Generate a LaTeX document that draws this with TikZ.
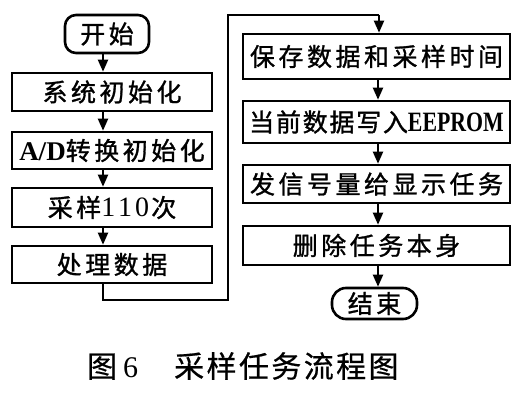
\documentclass[tikz,border=0pt]{standalone}
\usepackage{fontspec}
\newfontfamily\cjk[LetterSpace=14, FakeBold=1.2]{Noto Sans CJK SC}
\newfontfamily\cjkn[LetterSpace=7, FakeBold=1.2]{Noto Sans CJK SC}
\newfontfamily\capf[LetterSpace=8, FakeBold=0.6]{Noto Sans CJK SC}
\newfontfamily\latn{Liberation Serif}
\newfontfamily\latc[FakeStretch=0.78]{Liberation Serif}
\usetikzlibrary{arrows.meta}
\begin{document}
\begin{tikzpicture}[x=1pt,y=-1pt,
  box/.style={draw, line width=2.6pt, inner sep=0pt, font=\fontsize{25}{25}\selectfont\cjk},
  term/.style={box, rounded corners=11pt},
  arr/.style={line width=2pt, -{Triangle[length=12pt,width=10pt]}},
  conn/.style={line width=2pt}]
\useasboundingbox (0,0) rectangle (524,393);
% left column
\node[term, minimum width=84pt, minimum height=38pt] (start) at (107,34) {开始};
\node[box, minimum width=200pt, minimum height=38pt] (sys) at (112,92) {系统初始化};
\node[box, minimum width=200pt, minimum height=37pt] (ad) at (112,150.5) {{\latn\bfseries\fontsize{27}{27}\selectfont A/D}转换初始化};
\node[box, minimum width=200pt, minimum height=39pt] (samp) at (112,207.5) {采样{\latn\fontsize{28}{28}\selectfont 1\hspace{3pt}1\hspace{3pt}0}\hspace{2pt}次};
\node[box, minimum width=200pt, minimum height=37pt] (proc) at (112,264.5) {处理数据};
% right column
\node[box, minimum width=267pt, minimum height=45pt] (save) at (376.5,56.5) {保存数据和采样时间};
\node[box, minimum width=267pt, minimum height=42pt] (cur) at (376.5,122) {\cjkn 当前数据写入{\latc\bfseries\fontsize{28}{28}\selectfont EEPROM}};
\node[box, minimum width=267pt, minimum height=38pt] (sig) at (376.5,184) {发信号量给显示任务};
\node[box, minimum width=267pt, minimum height=39pt] (del) at (376.5,245.5) {删除任务本身};
\node[term, rounded corners=14pt, minimum width=85pt, minimum height=31pt] (end) at (374.5,303.5) {结束};
% caption
\node[anchor=west, inner sep=0pt, font=\fontsize{30}{30}\selectfont\capf] (cap) at (87,366) {图\hspace{6pt}{\latn 6}\hspace{36pt}采样任务流程图};
% connectors
\coordinate (lx) at (103,0);
\coordinate (rx) at (378,0);
\draw[arr] (start.south -| lx) -- (sys.north -| lx);
\draw[arr] (sys.south -| lx) -- (ad.north -| lx);
\draw[arr] (ad.south -| lx) -- (samp.north -| lx);
\draw[arr] (samp.south -| lx) -- (proc.north -| lx);
\coordinate (b1) at (103,300);
\coordinate (b2) at (228,300);
\coordinate (t1) at (228,15);
\coordinate (t2) at (379,15);
\draw[conn] (proc.south -| lx) -- (b1) -- (b2) -- (t1) -- (t2);
\draw[arr] (t2) -- (save.north -| t2);
\draw[arr] (save.south -| rx) -- (cur.north -| rx);
\draw[arr] (cur.south -| rx) -- (sig.north -| rx);
\draw[arr] (sig.south -| rx) -- (del.north -| rx);
\draw[arr] (del.south -| rx) -- (end.north -| rx);
\end{tikzpicture}
\end{document}
